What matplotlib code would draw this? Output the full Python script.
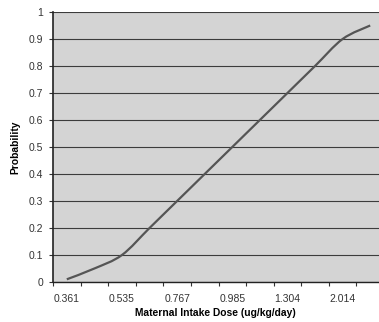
import matplotlib
matplotlib.use("Agg")
import matplotlib.pyplot as plt
from matplotlib.path import Path
from matplotlib.patches import PathPatch
import numpy as np

# =====================================================
# DATA
# =====================================================
# dose labels per category; Excel only shows every other one
dose_labels = ["0.361", "", "0.535", "", "0.767", "", "0.985", "",
               "1.304", "", "2.014", ""]
probability = [0.01, 0.05, 0.1, 0.2, 0.3, 0.4, 0.5, 0.6, 0.7, 0.8, 0.9, 0.95]
y_ticks = [0, 0.1, 0.2, 0.3, 0.4, 0.5, 0.6, 0.7, 0.8, 0.9, 1]
y_tick_labels = ["0", "0.1", "0.2", "0.3", "0.4", "0.5", "0.6", "0.7",
                 "0.8", "0.9", "1"]

# =====================================================
# FIGURE
# =====================================================
plt.rcParams["font.family"] = ["Liberation Sans", "DejaVu Sans"]

fig = plt.figure(figsize=(3.79, 3.22), dpi=100)
fig.patch.set_facecolor("white")
# plot area runs past the right edge (reference is cropped)
ax = fig.add_axes([53 / 379, 40 / 322, 331 / 379, 270 / 322])
ax.set_facecolor("#d4d4d4")

n = len(probability)
x = np.arange(n)
y = np.array(probability)

# smoothed line (Excel style bezier through the points)
pts = np.column_stack([x, y])
verts = [pts[0]]
codes = [Path.MOVETO]
for i in range(n - 1):
    p0 = pts[i - 1] if i > 0 else pts[i]
    p1 = pts[i]
    p2 = pts[i + 1]
    p3 = pts[i + 2] if i + 2 < n else pts[i + 1]
    c1 = p1 + (p2 - p0) / 6
    c2 = p2 - (p3 - p1) / 6
    verts += [c1, c2, p2]
    codes += [Path.CURVE4] * 3
ax.add_patch(PathPatch(Path(verts, codes), facecolor="none",
                       edgecolor="#555555", linewidth=1.6, zorder=3))

ax.set_xlim(-0.5, n - 0.5)
ax.set_ylim(0, 1)

# gridlines
for yt in y_ticks:
    ax.axhline(yt, color="#3c3c3c", linewidth=0.8, zorder=1)

# x axis: tick marks on category boundaries, labels on centres
ax.set_xticks(np.arange(n + 1) - 0.5)
ax.set_xticklabels([])
ax.set_xticks(x, minor=True)
ax.set_xticklabels(dose_labels, minor=True)
ax.tick_params(axis="x", which="major", direction="out", length=3,
               width=0.8, color="#333333")
ax.tick_params(axis="x", which="minor", length=0, pad=9,
               labelsize=7.5, labelcolor="#333333")

ax.set_yticks(y_ticks)
ax.set_yticklabels(y_tick_labels)
ax.tick_params(axis="y", direction="out", length=3, width=0.8,
               color="#333333", labelsize=7.5, labelcolor="#333333", pad=4)

for side in ["top", "right"]:
    ax.spines[side].set_visible(False)
ax.spines["left"].set_color("#222222")
ax.spines["bottom"].set_color("#222222")
ax.spines["left"].set_linewidth(1.2)
ax.spines["bottom"].set_linewidth(1.0)

fig.text(215 / 379, 1 - 313 / 322, "Maternal Intake Dose (ug/kg/day)",
         ha="center", va="center", fontsize=7.4, fontweight="bold")
fig.text(15 / 379, 1 - 147 / 322, "Probability", rotation=90,
         ha="center", va="center", fontsize=7.4, fontweight="bold")

fig.savefig("out.png", dpi=100)
